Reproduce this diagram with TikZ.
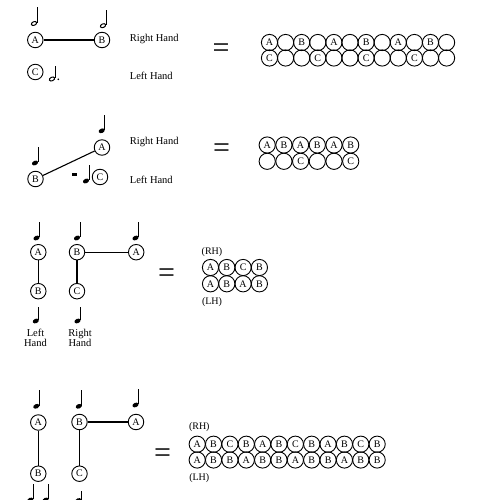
\documentclass[tikz,border=0pt]{standalone}
\usepackage{fontspec}
\setmainfont{Liberation Serif}
\tikzset{
  tone/.style={circle, draw, line width=.9pt, minimum size=15.5pt, inner sep=0pt, font=\fontsize{10}{10}\selectfont},
  cell/.style={circle, draw, line width=.9pt, minimum size=16.2pt, inner sep=0pt, font=\fontsize{10}{10}\selectfont},
  hand/.style={anchor=west, font=\fontsize{10.5}{11}\selectfont},
  hands/.style={align=center, font=\fontsize{10.5}{10.5}\selectfont},
  tag/.style={font=\fontsize{10}{10}\selectfont},
  equals/.style={font=\fontsize{30}{30}\selectfont},
  pics/crotchet/.default=16,
  pics/crotchet/.style={code={
    \fill[rotate=25] (0,0) ellipse [x radius=3.2pt, y radius=2.2pt];
    \draw[line width=.7pt] (2.9,-.8) -- (2.9,-#1);
  }},
  pics/minim/.default=16,
  pics/minim/.style={code={
    \draw[line width=1pt, rotate=25] (0,0) ellipse [x radius=2.8pt, y radius=1.8pt];
    \draw[line width=.7pt] (3,-.8) -- (3,-#1);
  }},
}
\begin{document}
\begin{tikzpicture}[x=1pt, y=-1pt, line width=1.1pt]
    \useasboundingbox (0,0) rectangle (500,500);
    \clip (0,0) rectangle (500,500);

    % first line
    \node[tone] (a1) at (35.3,40) {A};
    \node[tone] (b1) at (102,40) {B};
    \node[tone] (c1) at (35.3,72) {C};
    \draw (a1) -- (b1);
    \pic at (34,23.5) {minim};
    \pic at (103,25.7) {minim};
    \pic at (52,79) {minim=13};
    \fill (58.3,79.3) circle (.9pt);
    \node[hand] (rh1) at (126,39) {Right Hand};
    \node[hand] (lh1) at (126,76) {Left Hand};
    \node[equals] (eq1) at (221,51) {=};
    \foreach [count=\x] \k in {A,{},B,{},A,{},B,{},A,{},B,{}}
        \node[cell] (ta\x) at ({269.5+16.1*(\x-1)},42.5) {\k};
    \foreach [count=\x] \k in {C,{},{},C,{},{},C,{},{},C,{},{}}
        \node[cell] (tb\x) at ({269.5+16.1*(\x-1)},58) {\k};

    % second line
    \node[tone] (a2) at (102,147.5) {A};
    \node[tone] (b2) at (35.5,179) {B};
    \node[tone] (c2) at (100,177) {C};
    \draw (b2) -- (a2);
    \pic at (101.7,130.8) {crotchet};
    \pic at (35,163) {crotchet};
    \pic at (86,181) {crotchet};
    \fill (71.5,173.3) rectangle (76.5,175.8);
    \node[hand] (rh2) at (126,142) {Right Hand};
    \node[hand] (lh2) at (126,179.5) {Left Hand};
    \node[equals] (eq2) at (221.5,150.5) {=};
    \foreach [count=\x] \k in {A,B,A,B,A,B}
        \node[cell] (sa\x) at ({267.2+16.7*(\x-1)},145) {\k};
    \foreach [count=\x] \k in {{},{},C,{},{},C}
        \node[cell] (sb\x) at ({267.2+16.7*(\x-1)},161.3) {\k};

    % third line
    \node[tone] (a3) at (38.3,252.2) {A};
    \node[tone] (b3) at (38.3,291.2) {B};
    \node[tone] (b4) at (77,252.2) {B};
    \node[tone] (c3) at (77,291.2) {C};
    \node[tone] (a4) at (136.2,252.2) {A};
    \draw (a3) -- (b3);
    \draw (b4) -- (c3);
    \draw (b4) -- (a4);
    \pic at (36.5,238) {crotchet};
    \pic at (77,238) {crotchet};
    \pic at (135.5,238) {crotchet};
    \pic at (35.8,321) {crotchet=14};
    \pic at (77.5,321) {crotchet=14};
    \node[hands] (lh3) at (35.5,338) {Left\\Hand};
    \node[hands] (rh3) at (80,338) {Right\\Hand};
    \node[equals] (eq3) at (166.5,275.5) {=};
    \node[tag] (top3) at (212,252) {(RH)};
    \node[tag] (bot3) at (212,301.7) {(LH)};
    \foreach [count=\x] \k in {A,B,C,B}
        \node[cell] (ua\x) at ({210.5+16.3*(\x-1)},267.5) {\k};
    \foreach [count=\x] \k in {A,B,A,B}
        \node[cell] (ub\x) at ({210.5+16.3*(\x-1)},283.8) {\k};

    % fourth line
    \node[tone] (a5) at (38.3,422.5) {A};
    \node[tone] (b5) at (38.3,473.7) {B};
    \node[tone] (b6) at (79.5,422) {B};
    \node[tone] (c5) at (79.5,473.7) {C};
    \node[tone] (a6) at (136,422) {A};
    \draw (a5) -- (b5);
    \draw (b6) -- (c5);
    \draw (b6) -- (a6);
    \pic at (36.3,406.3) {crotchet};
    \pic at (78.8,406.3) {crotchet};
    \pic at (135.5,405) {crotchet};
    \pic at (30.3,500) {crotchet};
    \pic at (45.6,500) {crotchet};
    \pic at (78.3,500.5) {crotchet=10};
    \node[equals] (eq4) at (162.5,455.5) {=};
    \node[tag] (top4) at (199.3,426.7) {(RH)};
    \node[tag] (bot4) at (199.3,478.3) {(LH)};
    \foreach [count=\x] \k in {A,B,C,B,A,B,C,B,A,B,C,B}
        \node[cell] (va\x) at ({197.2+16.36*(\x-1)},444.2) {\k};
    \foreach [count=\x] \k in {A,B,B,A,B,B,A,B,B,A,B,B}
        \node[cell] (vb\x) at ({197.2+16.36*(\x-1)},460) {\k};
\end{tikzpicture}
\end{document}
